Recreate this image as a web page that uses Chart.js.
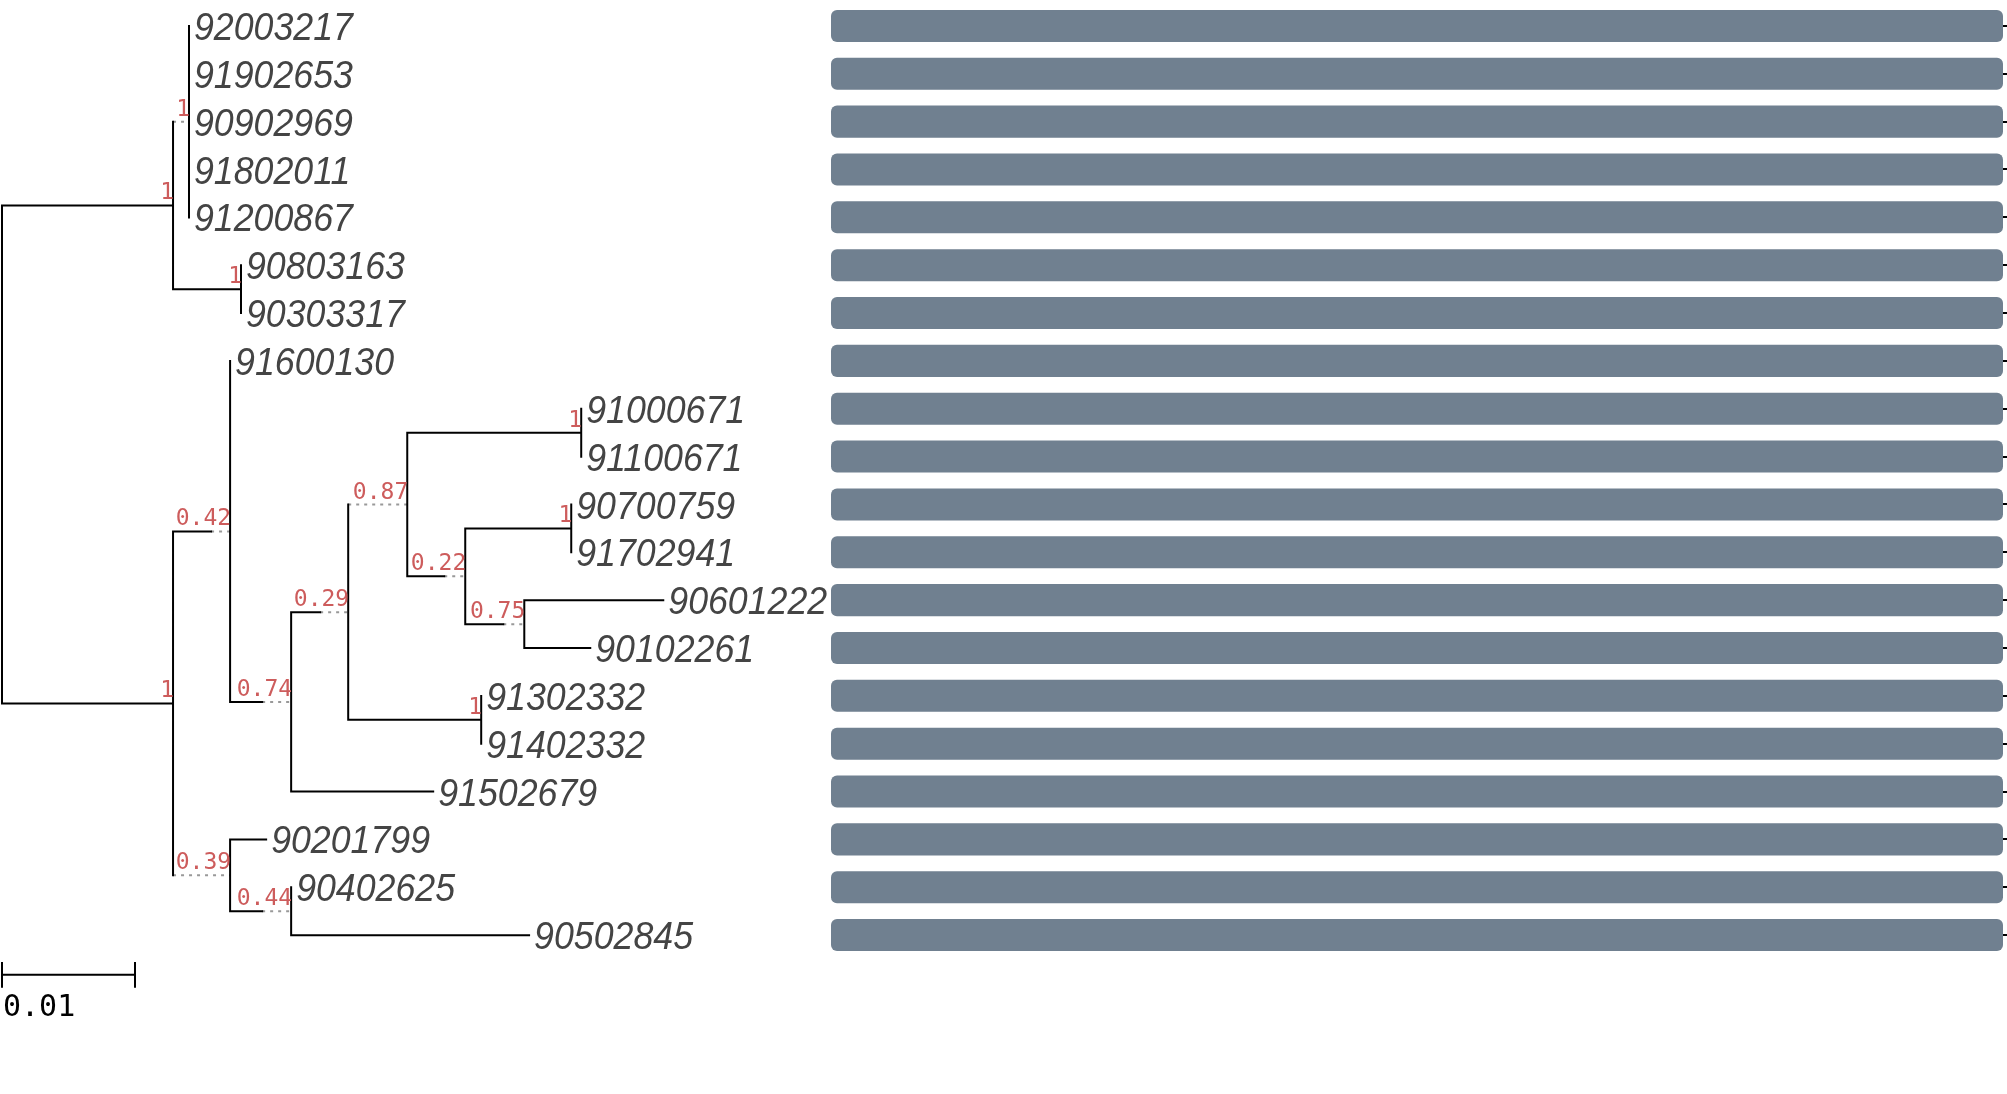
<!DOCTYPE html>
<html>
<head>
<meta charset="utf-8">
<script src="https://cdn.jsdelivr.net/npm/chart.js@4.4.1/dist/chart.umd.min.js"></script>
<style>
  html, body { margin: 0; padding: 0; background: #fff; }
  #tree-wrap { position: absolute; left: 0; top: 0; width: 900px; height: 1094px; }
  #bars-wrap { position: absolute; left: 831px; top: 0; width: 1176px; height: 1094px; }
</style>
</head>
<body>
<div id="tree-wrap"><canvas id="tree"></canvas></div>
<div id="bars-wrap"><canvas id="bars"></canvas></div>
<script>
// leaf order, top to bottom
const tipNames = [
  '92003217', '91902653', '90902969', '91802011', '91200867',
  '90803163', '90303317', '91600130', '91000671', '91100671',
  '90700759', '91702941', '90601222', '90102261', '91302332',
  '91402332', '91502679', '90201799', '90402625', '90502845'
];
const barValues = [1, 1, 1, 1, 1, 1, 1, 1, 1, 1, 1, 1, 1, 1, 1, 1, 1, 1, 1, 1];

// tree nodes (parents listed before children); tips carry a name
const nodeLabel = [
  '', '', '', '92003217', '91902653', '90902969', '91802011', '91200867',
  '', '90803163', '90303317',
  '', '', '91600130', '', '', '', '', '91000671', '91100671',
  '', '', '90700759', '91702941', '', '90601222', '90102261',
  '', '91302332', '91402332', '91502679',
  '', '90201799', '', '90402625', '90502845'
];
const nodeParent = [
  -1, 0, 1, 2, 2, 2, 2, 2,
  1, 8, 8,
  0, 11, 12, 12, 14, 15, 16, 17, 17,
  16, 20, 21, 21, 20, 24, 24,
  15, 27, 27, 14,
  11, 31, 31, 33, 33
];
// drawn branch length (solid) and extra stretch (dotted)
const branchLen = [
  0, 0.01286, 0, 0, 0, 0, 0, 0,
  0.00511, 0, 0,
  0.01286, 0.00286, 0, 0.00241, 0.00218, 0, 0.01308, 0, 0,
  0.00278, 0.00797, 0, 0, 0.00286, 0.01045, 0.00496,
  0.01, 0, 0, 0.01068,
  0, 0.00271, 0.00241, 0, 0.01789
];
const branchExt = [
  0, 0, 0.0012, 0, 0, 0, 0, 0,
  0, 0, 0,
  0, 0.00143, 0, 0.00218, 0.00211, 0.00444, 0, 0, 0,
  0.00158, 0, 0, 0, 0.00158, 0, 0,
  0, 0, 0, 0,
  0.00429, 0, 0.00218, 0, 0
];
const nodeSupport = [
  '', '1', '1', '', '', '', '', '',
  '1', '', '',
  '1', '0.42', '', '0.74', '0.29', '0.87', '1', '', '',
  '0.22', '1', '', '', '0.75', '', '',
  '1', '', '', '',
  '0.39', '', '0.44', '', ''
];
const scaleBarLen = 0.01;
const scaleBarText = '0.01';

// layout of the tree
const n = nodeParent.length;
const nodeX = [];
const nodeY = [];
const children = nodeParent.map(() => []);
nodeParent.forEach((p, i) => { if (p >= 0) children[p].push(i); });
for (let i = 0; i < n; i++) {
  const p = nodeParent[i];
  nodeX[i] = p < 0 ? 0 : nodeX[p] + branchLen[i] + branchExt[i];
}
for (let i = n - 1; i >= 0; i--) {
  const c = children[i];
  if (c.length === 0) nodeY[i] = tipNames.indexOf(nodeLabel[i]);
  else nodeY[i] = (nodeY[c[0]] + nodeY[c[c.length - 1]]) / 2;
}

const solidPts = [];
const dottedPts = [];
for (let i = 0; i < n; i++) {
  const p = nodeParent[i];
  if (p >= 0) {
    const x0 = nodeX[p];
    const x1 = x0 + branchLen[i];
    if (branchLen[i] > 0) solidPts.push({x: x0, y: nodeY[i]}, {x: x1, y: nodeY[i]}, {x: x1, y: null});
    if (branchExt[i] > 0) dottedPts.push({x: x1, y: nodeY[i]}, {x: nodeX[i], y: nodeY[i]}, {x: nodeX[i], y: null});
  }
  const c = children[i];
  if (c.length) {
    solidPts.push({x: nodeX[i], y: nodeY[c[0]]}, {x: nodeX[i], y: nodeY[c[c.length - 1]]}, {x: nodeX[i], y: null});
  }
}

// scale bar under the tree
const barRow = 19.83;
const scalePts = [
  {x: 0, y: barRow}, {x: scaleBarLen, y: barRow}, {x: scaleBarLen, y: null},
  {x: 0, y: barRow - 0.27}, {x: 0, y: barRow + 0.27}, {x: 0, y: null},
  {x: scaleBarLen, y: barRow - 0.27}, {x: scaleBarLen, y: barRow + 0.27}
];

const treeLabels = {
  id: 'treeLabels',
  afterDatasetsDraw(chart) {
    const {ctx, scales: {x, y}} = chart;
    ctx.save();
    ctx.font = 'italic 38px "Liberation Sans", Arial, sans-serif';
    ctx.fillStyle = '#444';
    ctx.textAlign = 'left';
    ctx.textBaseline = 'alphabetic';
    for (let i = 0; i < n; i++) {
      if (children[i].length === 0) {
        ctx.save();
        ctx.translate(x.getPixelForValue(nodeX[i]) + 5, y.getPixelForValue(nodeY[i]) + 14);
        ctx.scale(0.94, 1);
        ctx.fillText(nodeLabel[i], 0, 0);
        ctx.restore();
      }
    }
    ctx.font = '23px "DejaVu Sans Mono", monospace';
    ctx.fillStyle = '#cd5c5c';
    ctx.textAlign = 'right';
    for (let i = 0; i < n; i++) {
      if (nodeSupport[i]) {
        ctx.fillText(nodeSupport[i], x.getPixelForValue(nodeX[i]) + 1, y.getPixelForValue(nodeY[i]) - 6);
      }
    }
    ctx.font = '30px "DejaVu Sans Mono", monospace';
    ctx.fillStyle = '#000';
    ctx.textAlign = 'left';
    ctx.fillText(scaleBarText, x.getPixelForValue(0) + 1, y.getPixelForValue(barRow) + 41);
    ctx.restore();
  }
};

new Chart(document.getElementById('tree'), {
  type: 'line',
  data: {
    datasets: [
      {data: solidPts, borderColor: '#000', borderWidth: 2, pointRadius: 0, borderCapStyle: 'square', spanGaps: false},
      {data: dottedPts, borderColor: '#999', borderWidth: 2, borderDash: [3, 5], pointRadius: 0, spanGaps: false},
      {data: scalePts, borderColor: '#000', borderWidth: 2, pointRadius: 0, spanGaps: false}
    ]
  },
  options: {
    responsive: true,
    maintainAspectRatio: false,
    animation: false,
    layout: {padding: 0},
    plugins: {legend: {display: false}, tooltip: {enabled: false}},
    scales: {
      x: {type: 'linear', display: false, min: -2 / 13300, max: -2 / 13300 + 900 / 13300},
      y: {type: 'linear', display: false, reverse: true, min: -26 / 47.85, max: -26 / 47.85 + 1094 / 47.85}
    }
  },
  plugins: [treeLabels]
});

new Chart(document.getElementById('bars'), {
  type: 'bar',
  data: {
    labels: tipNames,
    datasets: [{
      data: barValues,
      backgroundColor: '#708090',
      borderRadius: 6,
      borderSkipped: false,
      barPercentage: 0.67,
      categoryPercentage: 1
    }]
  },
  options: {
    indexAxis: 'y',
    responsive: true,
    maintainAspectRatio: false,
    animation: false,
    layout: {padding: {top: 2, bottom: 135, left: 0, right: 0}},
    plugins: {legend: {display: false}, tooltip: {enabled: false}},
    scales: {
      x: {display: false, min: 0, max: 1},
      y: {
        position: 'right',
        grid: {drawOnChartArea: false, offset: false, tickLength: 4, color: '#000', lineWidth: 2},
        border: {display: false},
        ticks: {display: false},
        afterFit(scale) { scale.width = 4; }
      }
    }
  }
});
</script>
</body>
</html>
